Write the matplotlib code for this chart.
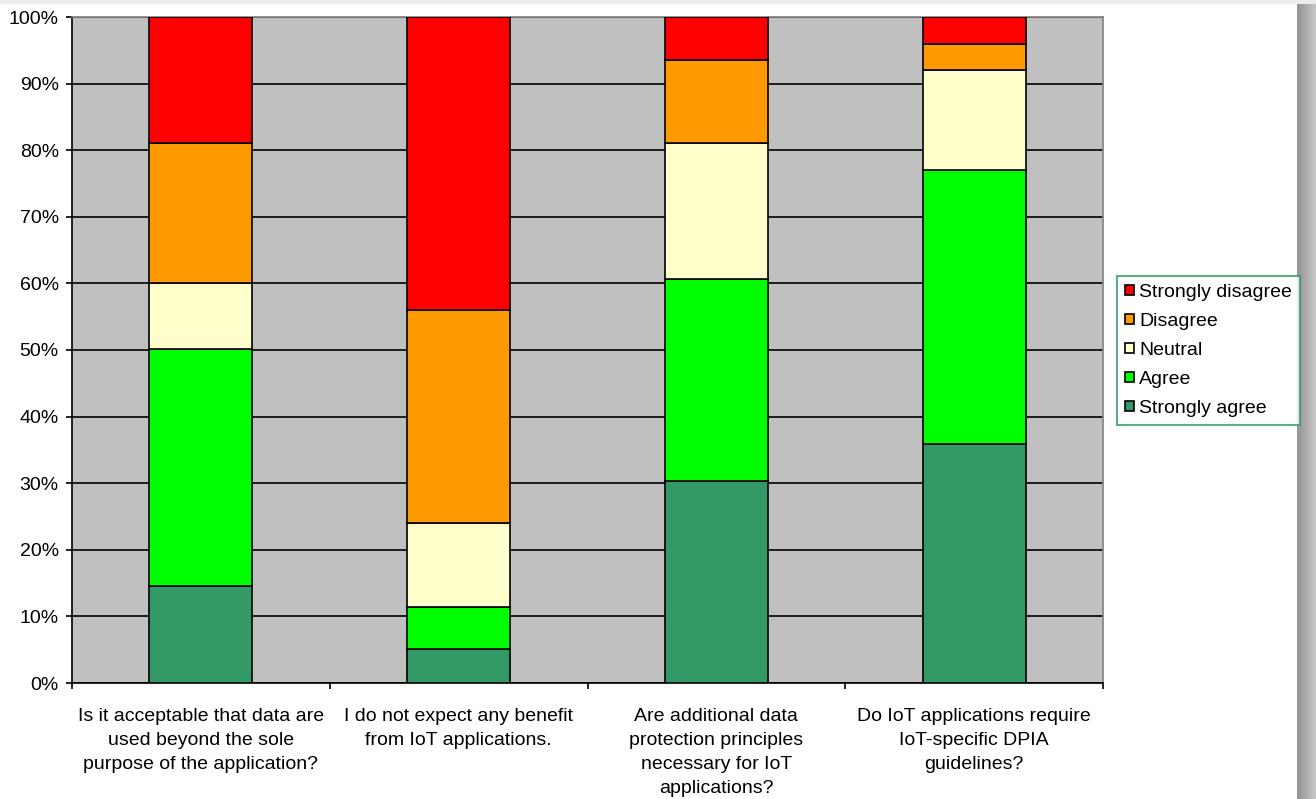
import matplotlib
matplotlib.use('Agg')
import matplotlib.pyplot as plt
import numpy as np
from matplotlib.patches import Rectangle

plt.rcParams['font.family'] = ['Liberation Sans', 'DejaVu Sans']

questions = ['Is it acceptable that data are\nused beyond the sole\npurpose of the application?',
             'I do not expect any benefit\nfrom IoT applications.',
             'Are additional data\nprotection principles\nnecessary for IoT\napplications?',
             'Do IoT applications require\nIoT-specific DPIA\nguidelines?']

# answer shares in percent, stacked bottom to top
strongly_agree = [14.6, 5.1, 30.3, 35.9]
agree = [35.5, 6.3, 30.4, 41.1]
neutral = [10.0, 12.6, 20.4, 15.1]
disagree = [21.0, 32.0, 12.5, 3.8]
strongly_disagree = [18.9, 44.0, 6.4, 4.1]

series = [('Strongly agree', strongly_agree, '#339966'),
          ('Agree', agree, '#00FF00'),
          ('Neutral', neutral, '#FFFFCC'),
          ('Disagree', disagree, '#FF9900'),
          ('Strongly disagree', strongly_disagree, '#FF0000')]

W, H = 1316, 799
fig = plt.figure(figsize=(W / 100, H / 100), dpi=100)
fig.patch.set_facecolor('white')

ax = fig.add_axes([72 / W, 1 - 683 / H, (1103 - 72) / W, (683 - 17) / H])
ax.set_facecolor('#C0C0C0')

x = np.arange(len(questions))
bottom = np.zeros(len(questions))
handles = []
for name, vals, color in series:
    b = ax.bar(x, vals, width=0.4, bottom=bottom, color=color,
               edgecolor='black', linewidth=1.2, label=name, zorder=3)
    handles.append(b)
    bottom += np.array(vals)

ax.set_xlim(-0.5, len(questions) - 0.5)
ax.set_ylim(0, 100)
ax.set_yticks(np.arange(0, 101, 10))
ax.set_yticklabels([f'{v}%' for v in range(0, 101, 10)], fontsize=14)
ax.yaxis.grid(True, color='black', linewidth=1.2, zorder=1)
ax.set_axisbelow(True)

# tick marks between categories, labels centred under the bars
ax.set_xticks(np.arange(-0.5, len(questions), 1.0))
ax.set_xticklabels([])
ax.set_xticks(x, minor=True)
ax.set_xticklabels(questions, minor=True, fontsize=14, linespacing=1.55)
ax.tick_params(axis='x', which='major', direction='out', length=4.5, width=1.2)
ax.tick_params(axis='x', which='minor', length=0, pad=18)
ax.tick_params(axis='y', direction='out', length=4.5, width=1.2, pad=5)

for side in ['left', 'bottom']:
    ax.spines[side].set_color('black')
    ax.spines[side].set_linewidth(1.2)
for side in ['top', 'right']:
    ax.spines[side].set_color('#808080')
    ax.spines[side].set_linewidth(1.2)

leg = fig.legend(handles[::-1], [s[0] for s in series][::-1],
                 loc='upper left', bbox_to_anchor=(1117 / W, 1 - 276 / H),
                 fontsize=14, frameon=True, fancybox=False,
                 edgecolor='#339966', handlelength=0.45, handleheight=0.45,
                 handletextpad=0.3, labelspacing=0.62, borderpad=0.4,
                 borderaxespad=0)
leg.get_frame().set_linewidth(1.5)

# page edge: light band on top and shadow on the right
fig.patches.append(Rectangle((0, 1 - 4 / H), 1, 4 / H, transform=fig.transFigure,
                             facecolor='#ECECEC', edgecolor='none', zorder=0))
shadow = fig.add_axes([1297 / W, 0, (W - 1297) / W, 1])
grad = np.linspace(0.58, 0.78, 50).reshape(1, -1)
shadow.imshow(grad, cmap='gray', vmin=0, vmax=1, aspect='auto')
shadow.axis('off')

fig.savefig('out.png', dpi=100)
